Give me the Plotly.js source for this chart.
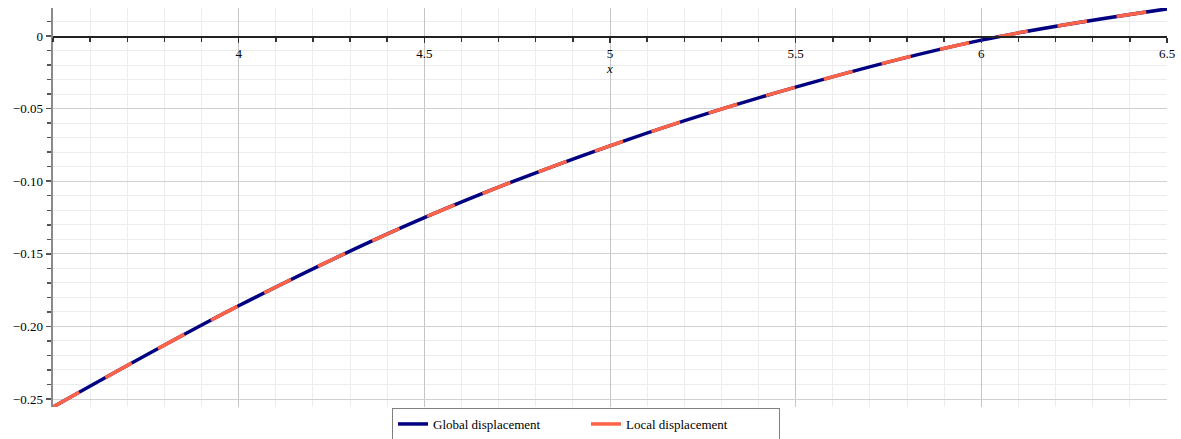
<!DOCTYPE html>
<html>
<head>
<meta charset="utf-8">
<script src="https://cdn.plot.ly/plotly-3.0.1.min.js"></script>
<style>html,body{margin:0;padding:0;background:#fff;}#chart{width:1181px;height:439px;}</style>
</head>
<body>
<div id="chart"></div>
<script>
const xValues = [3.5, 4, 4.5, 5, 5.5, 6, 6.5];
const globalDisplacement = [-0.2555, -0.1858, -0.1251, -0.0756, -0.0352, -0.0028, 0.0187];
const localDisplacement = [-0.2555, -0.1858, -0.1251, -0.0756, -0.0352, -0.0028, 0.0187];
const xTickVals = [4, 4.5, 5, 5.5, 6, 6.5];
const xTickText = ["4", "4.5", "5", "5.5", "6", "6.5"];
const yTickVals = [-0.25, -0.2, -0.15, -0.1, -0.05, 0];
const yTickText = ["\u22120.25", "\u22120.20", "\u22120.15", "\u22120.10", "\u22120.05", "0"];
const seriesNames = ["Global displacement", "Local displacement"];

const yMin = -0.2555, yMax = 0.0193;
const serif = '"Liberation Serif", "Times New Roman", serif';

const traces = [
  {x: xValues, y: globalDisplacement, name: seriesNames[0], mode: 'lines',
   line: {color: '#000080', width: 3.5, shape: 'spline'}},
  {x: xValues, y: localDisplacement, name: seriesNames[1], mode: 'lines',
   line: {color: '#FF6347', width: 3.5, shape: 'spline', dash: '30px,30px'}}
];

const layout = {
  width: 1181, height: 439,
  margin: {l: 53, r: 14, t: 8, b: 32, autoexpand: false},
  paper_bgcolor: '#fff', plot_bgcolor: '#fff',
  font: {family: serif, size: 13, color: '#000'},
  showlegend: true,
  legend: {orientation: 'h', x: 0.3043, xanchor: 'left', y: -0.0025, yanchor: 'top',
           bordercolor: '#808080', borderwidth: 1, font: {family: serif, size: 13},
           entrywidth: 148, entrywidthmode: 'pixels', tracegroupgap: 0,
           itemwidth: 30},
  xaxis: {
    range: [3.5, 6.5], anchor: 'free', position: (0 - yMin) / (yMax - yMin),
    showline: true, linecolor: '#222', linewidth: 1.5,
    ticks: 'outside', ticklen: 5, tickcolor: '#333', tickwidth: 1.5,
    tickvals: xTickVals, ticktext: xTickText,
    tickfont: {family: serif, size: 13, color: '#000'},
    showgrid: true, gridcolor: '#c4c4c4', gridwidth: 1, zeroline: false,
    minor: {dtick: 0.1, tick0: 3.5, ticks: 'outside', ticklen: 4, tickcolor: '#333',
            showgrid: true, gridcolor: '#ececec', gridwidth: 1},
    title: {text: '<i>x</i>', font: {family: serif, size: 13, color: '#000'}, standoff: 1},
    automargin: false
  },
  yaxis: {
    range: [yMin, yMax],
    showline: true, linecolor: '#8a8a8a', linewidth: 2.5,
    ticks: 'outside', ticklen: 5, tickcolor: '#555', tickwidth: 1.5,
    tickvals: yTickVals, ticktext: yTickText,
    tickfont: {family: serif, size: 13, color: '#000'},
    showgrid: true, gridcolor: '#d0d0d0', gridwidth: 1, zeroline: false,
    minor: {dtick: 0.01, tick0: 0, ticks: 'outside', ticklen: 4, tickcolor: '#555',
            showgrid: true, gridcolor: '#ececec', gridwidth: 1},
    automargin: false
  }
};

Plotly.newPlot('chart', traces, layout, {displayModeBar: false, staticPlot: true});
</script>
</body>
</html>
